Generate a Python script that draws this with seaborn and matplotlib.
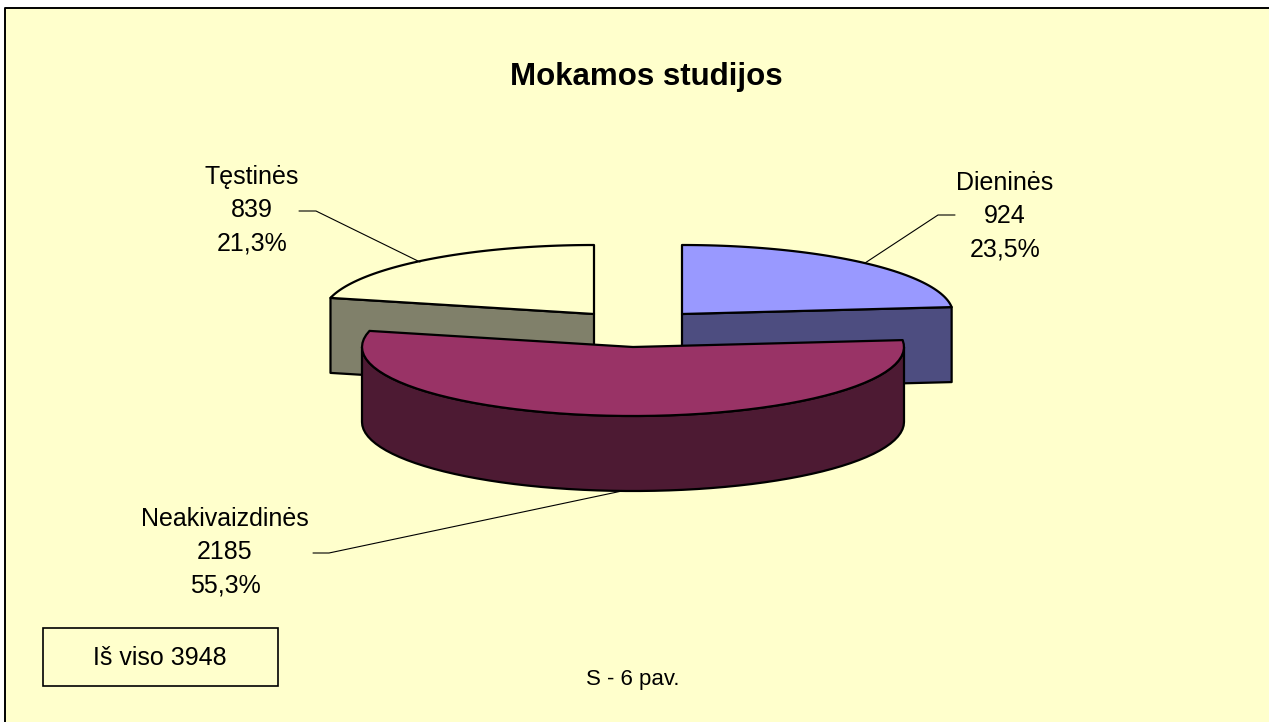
import numpy as np
import seaborn as sns
import matplotlib.pyplot as plt

sns.set_theme(style='white')
plt.rcParams['font.family'] = ['Liberation Sans', 'DejaVu Sans']

# Chart data
categories = ['Dieninės', 'Neakivaizdinės', 'Tęstinės']
values = [924, 2185, 839]
percent_labels = ['23,5%', '55,3%', '21,3%']
title = 'Mokamos studijos'
total_label = 'Iš viso 3948'
caption = 'S - 6 pav.'

top_colors = ['#9999FF', '#993366', '#FFFFCC']
side_colors = ['#4D4D80', '#4D1A33', '#80806A']
bg_color = '#FFFFCC'

# Layout in pixels
centers = [(682, 314), (633, 347), (594, 314)]
rx, ry, depth = 271, 69, 75
label_pos = [(1005, 216), (225, 552), (252, 210)]
leaders = [[(865, 263), (938, 215), (955, 215)],
           [(622, 491), (329, 553), (313, 553)],
           [(420, 262), (316, 211), (299, 211)]]

fig = plt.figure(figsize=(12.69, 7.22), dpi=100, facecolor='white')
ax = fig.add_axes([0, 0, 1, 1])
ax.set_xlim(0, 1269)
ax.set_ylim(722, 0)
ax.axis('off')

# the plot area runs off the picture on the right and at the bottom
ax.add_patch(plt.Rectangle((5, 8), 1264, 714, fc=bg_color, ec='none'))
ax.plot([5, 5, 1269], [722, 8, 8], color='black', lw=1.4)


def arc(cx, cy, a0, a1):
    t = np.radians(np.linspace(a0, a1, 60))
    return cx + rx * np.cos(t), cy - ry * np.sin(t)


# Slices run clockwise from 12 o'clock
angles = 90 - np.concatenate([[0], np.cumsum(values)]) / sum(values) * 360
edge = dict(edgecolor='black', linewidth=1.6, joinstyle='round')

for i in [2, 0, 1]:
    cx, cy = centers[i]
    a0, a1 = angles[i], angles[i + 1]
    x, y = arc(cx, cy, a0, a1)

    if i == 1:
        # the front wedge shows its curved rim, only the half facing the viewer
        rim_x, rim_y = arc(cx, cy, min(a0, 0), max(a1, -180))
        ax.fill(np.r_[rim_x, rim_x[::-1]], np.r_[rim_y, rim_y[::-1] + depth],
                facecolor=side_colors[i], **edge)
    else:
        # the others show the flat cut face towards the viewer
        outer = (x[-1], y[-1]) if i == 0 else (x[0], y[0])
        ax.fill([cx, outer[0], outer[0], cx], [cy, outer[1], outer[1] + depth, cy + depth],
                facecolor=side_colors[i], **edge)

    ax.fill(np.r_[cx, x], np.r_[cy, y], facecolor=top_colors[i], **edge)

for pts in leaders:
    xs, ys = zip(*pts)
    ax.plot(xs, ys, color='black', lw=0.8, zorder=1)

for name, val, pct, (lx, ly) in zip(categories, values, percent_labels, label_pos):
    ax.text(lx, ly - 33, name, ha='center', va='center', fontsize=18, color='black')
    ax.text(lx, ly, str(val), ha='center', va='center', fontsize=18, color='black')
    ax.text(lx, ly + 33, pct, ha='center', va='center', fontsize=18, color='black')

ax.text(646, 77, title, ha='center', va='center', fontsize=22.5, fontweight='bold', color='black')

ax.add_patch(plt.Rectangle((43, 628), 235, 58, fc=bg_color, ec='black', lw=1.2))
ax.text(160, 658, total_label, ha='center', va='center', fontsize=18, color='black')
ax.text(633, 679, caption, ha='center', va='center', fontsize=16, color='black')

fig.savefig('out.png', dpi=100)
